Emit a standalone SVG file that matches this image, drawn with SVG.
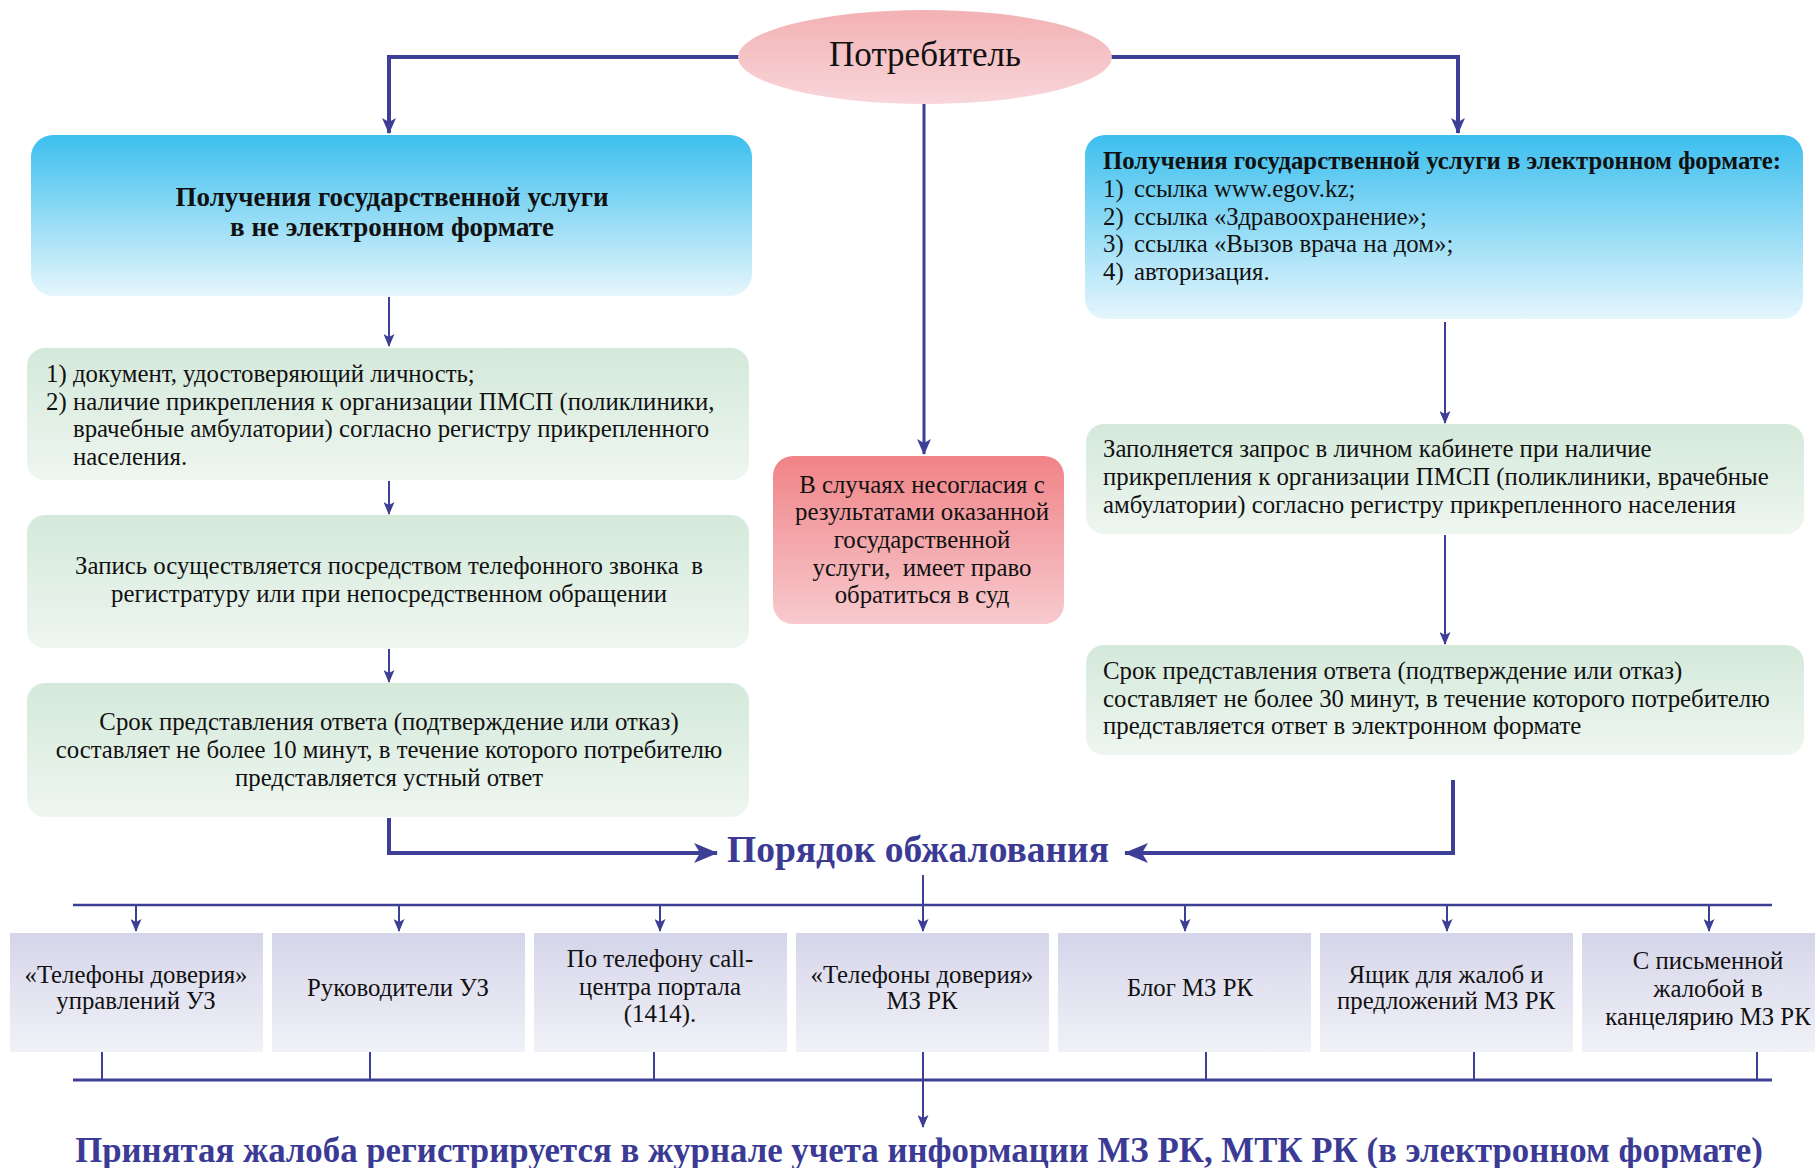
<svg xmlns="http://www.w3.org/2000/svg" width="1815" height="1168" viewBox="0 0 1815 1168">
  <style>
    text { font-family: "Liberation Serif", "Times New Roman", serif; fill: #111; }
    .t { font-size: 24.8px; }
    .tb { font-size: 24.8px; font-weight: bold; }
    .tt { font-size: 27px; font-weight: bold; }
    .c { text-anchor: middle; }
    .head { font-size: 37.5px; font-weight: bold; fill: #3b3b95; }
    .foot { font-size: 34.8px; font-weight: bold; fill: #3b3b95; }
    .ln { stroke: #3d3f96; fill: none; }
  </style>
  <defs>
    <linearGradient id="gPink" x1="0" y1="0" x2="0" y2="1">
      <stop offset="0" stop-color="#f3b1b4"/>
      <stop offset="1" stop-color="#f8d6da"/>
    </linearGradient>
    <linearGradient id="gBlue" x1="0" y1="0" x2="0" y2="1">
      <stop offset="0" stop-color="#3cbfee"/>
      <stop offset="1" stop-color="#e6f6fc"/>
    </linearGradient>
    <linearGradient id="gGreen" x1="0" y1="0" x2="0" y2="1">
      <stop offset="0" stop-color="#d4e9da"/>
      <stop offset="1" stop-color="#eef6f0"/>
    </linearGradient>
    <linearGradient id="gRed" x1="0" y1="0" x2="0" y2="1">
      <stop offset="0" stop-color="#f08387"/>
      <stop offset="1" stop-color="#f7cace"/>
    </linearGradient>
    <linearGradient id="gLav" x1="0" y1="0" x2="0" y2="1">
      <stop offset="0" stop-color="#d5d5ea"/>
      <stop offset="1" stop-color="#f1f1f8"/>
    </linearGradient>
    <marker id="arr" markerUnits="userSpaceOnUse" markerWidth="16" markerHeight="14" viewBox="0 0 16 14" refX="15" refY="7" orient="auto">
      <path d="M0,0 L16,7 L0,14 L4,7 z" fill="#3d3f96"/>
    </marker>
    <marker id="arrS" markerUnits="userSpaceOnUse" markerWidth="13" markerHeight="11" viewBox="0 0 13 11" refX="12" refY="5.5" orient="auto">
      <path d="M0,0 L13,5.5 L0,11 L3,5.5 z" fill="#3d3f96"/>
    </marker>
    <marker id="arrB" markerUnits="userSpaceOnUse" markerWidth="24" markerHeight="20" viewBox="0 0 24 20" refX="23" refY="10" orient="auto">
      <path d="M0,0 L24,10 L0,20 L6,10 z" fill="#3d3f96"/>
    </marker>
  </defs>

  <!-- connectors -->
  <g id="connectors">
    <path class="ln" d="M741,57 H389 V133" stroke-width="4" marker-end="url(#arr)"/>
    <path class="ln" d="M1088,57 H1458 V133" stroke-width="4" marker-end="url(#arr)"/>
    <path class="ln" d="M924,104 V454" stroke-width="3" marker-end="url(#arr)"/>
    <path class="ln" d="M389,297 V346" stroke-width="2" marker-end="url(#arrS)"/>
    <path class="ln" d="M389,481 V514" stroke-width="2" marker-end="url(#arrS)"/>
    <path class="ln" d="M389,649 V682" stroke-width="2" marker-end="url(#arrS)"/>
    <path class="ln" d="M1445,322 V423" stroke-width="2" marker-end="url(#arrS)"/>
    <path class="ln" d="M1445,535 V644" stroke-width="2" marker-end="url(#arrS)"/>
    <path class="ln" d="M389,818 V853 H717" stroke-width="4" marker-end="url(#arrB)"/>
    <path class="ln" d="M1453,780 V853 H1125" stroke-width="4" marker-end="url(#arrB)"/>
    <path class="ln" d="M923,875 V931" stroke-width="2" marker-end="url(#arrS)"/>
    <path class="ln" d="M73,905 H1772" stroke-width="2.5"/>
    <path class="ln" d="M136,905 V931" stroke-width="2" marker-end="url(#arrS)"/>
    <path class="ln" d="M399,905 V931" stroke-width="2" marker-end="url(#arrS)"/>
    <path class="ln" d="M660,905 V931" stroke-width="2" marker-end="url(#arrS)"/>
    <path class="ln" d="M1185,905 V931" stroke-width="2" marker-end="url(#arrS)"/>
    <path class="ln" d="M1447,905 V931" stroke-width="2" marker-end="url(#arrS)"/>
    <path class="ln" d="M1709,905 V931" stroke-width="2" marker-end="url(#arrS)"/>
    <path class="ln" d="M102,1052 V1080 M370,1052 V1080 M654,1052 V1080 M1206,1052 V1080 M1474,1052 V1080 M1757,1052 V1080" stroke-width="2"/>
    <path class="ln" d="M73,1080 H1772" stroke-width="3"/>
    <path class="ln" d="M923,1052 V1127" stroke-width="2" marker-end="url(#arrS)"/>
  </g>

  <!-- consumer -->
  <g id="consumer">
    <ellipse cx="925" cy="57" rx="187" ry="47" fill="url(#gPink)"/>
    <text x="925" y="66" class="c" font-size="35">Потребитель</text>
  </g>

  <!-- paper route -->
  <g id="offline">
    <rect x="31" y="135" width="721" height="161" rx="22" fill="url(#gBlue)"/>
    <text x="392" y="206" class="tt c">Получения государственной услуги</text>
    <text x="392" y="236" class="tt c">в не электронном формате</text>
  </g>
  <g id="offline-docs">
    <rect x="27" y="348" width="722" height="132" rx="18" fill="url(#gGreen)"/>
    <text class="t"><tspan x="46" y="382">1)</tspan><tspan x="73" y="382">документ, удостоверяющий личность;</tspan></text>
    <text class="t"><tspan x="46" y="410">2)</tspan><tspan x="73" y="410">наличие прикрепления к организации ПМСП (поликлиники,</tspan></text>
    <text class="t" x="73" y="437">врачебные амбулатории) согласно регистру прикрепленного</text>
    <text class="t" x="73" y="465">населения.</text>
  </g>
  <g id="offline-booking">
    <rect x="27" y="515" width="722" height="133" rx="18" fill="url(#gGreen)"/>
    <text x="389" y="574" class="t c">Запись осуществляется посредством телефонного звонка&#160; в</text>
    <text x="389" y="602" class="t c">регистратуру или при непосредственном обращении</text>
  </g>
  <g id="offline-answer">
    <rect x="27" y="683" width="722" height="134" rx="18" fill="url(#gGreen)"/>
    <text x="389" y="730" class="t c">Срок представления ответа (подтверждение или отказ)</text>
    <text x="389" y="758" class="t c">составляет не более 10 минут, в течение которого потребителю</text>
    <text x="389" y="786" class="t c">представляется устный ответ</text>
  </g>

  <!-- court -->
  <g id="court">
    <rect x="773" y="456" width="291" height="168" rx="20" fill="url(#gRed)"/>
    <text x="922" y="493" class="t c">В случаях несогласия с</text>
    <text x="922" y="520" class="t c">результатами оказанной</text>
    <text x="922" y="548" class="t c">государственной</text>
    <text x="922" y="576" class="t c">услуги,&#160; имеет право</text>
    <text x="922" y="603" class="t c">обратиться в суд</text>
  </g>

  <!-- electronic route -->
  <g id="online">
    <rect x="1085" y="135" width="718" height="184" rx="20" fill="url(#gBlue)"/>
    <text x="1103" y="169" class="tb">Получения государственной услуги в электронном формате:</text>
    <text class="t"><tspan x="1103" y="197">1)</tspan><tspan x="1134" y="197">ссылка www.egov.kz;</tspan></text>
    <text class="t"><tspan x="1103" y="225">2)</tspan><tspan x="1134" y="225">ссылка «Здравоохранение»;</tspan></text>
    <text class="t"><tspan x="1103" y="252">3)</tspan><tspan x="1134" y="252">ссылка «Вызов врача на дом»;</tspan></text>
    <text class="t"><tspan x="1103" y="280">4)</tspan><tspan x="1134" y="280">авторизация.</tspan></text>
  </g>
  <g id="online-request">
    <rect x="1086" y="424" width="718" height="110" rx="18" fill="url(#gGreen)"/>
    <text x="1103" y="457" class="t">Заполняется запрос в личном кабинете при наличие</text>
    <text x="1103" y="485" class="t">прикрепления к организации ПМСП (поликлиники, врачебные</text>
    <text x="1103" y="513" class="t">амбулатории) согласно регистру прикрепленного населения</text>
  </g>
  <g id="online-answer">
    <rect x="1086" y="645" width="718" height="110" rx="18" fill="url(#gGreen)"/>
    <text x="1103" y="679" class="t">Срок представления ответа (подтверждение или отказ)</text>
    <text x="1103" y="707" class="t">составляет не более 30 минут, в течение которого потребителю</text>
    <text x="1103" y="734" class="t">представляется ответ в электронном формате</text>
  </g>

  <!-- appeal -->
  <g id="appeal">
    <text x="918" y="862" class="head c">Порядок обжалования</text>
  </g>

  <g id="ch1">
    <rect x="10" y="933" width="253" height="119" fill="url(#gLav)"/>
    <text x="136" y="983" class="t c">«Телефоны доверия»</text>
    <text x="136" y="1009" class="t c">управлений УЗ</text>
  </g>
  <g id="ch2">
    <rect x="272" y="933" width="253" height="119" fill="url(#gLav)"/>
    <text x="398" y="996" class="t c">Руководители УЗ</text>
  </g>
  <g id="ch3">
    <rect x="534" y="933" width="253" height="119" fill="url(#gLav)"/>
    <text x="660" y="967" class="t c">По телефону call-</text>
    <text x="660" y="995" class="t c">центра портала</text>
    <text x="660" y="1022" class="t c">(1414).</text>
  </g>
  <g id="ch4">
    <rect x="796" y="933" width="253" height="119" fill="url(#gLav)"/>
    <text x="922" y="983" class="t c">«Телефоны доверия»</text>
    <text x="922" y="1009" class="t c">МЗ РК</text>
  </g>
  <g id="ch5">
    <rect x="1058" y="933" width="253" height="119" fill="url(#gLav)"/>
    <text x="1190" y="996" class="t c">Блог МЗ РК</text>
  </g>
  <g id="ch6">
    <rect x="1320" y="933" width="253" height="119" fill="url(#gLav)"/>
    <text x="1446" y="983" class="t c">Ящик для жалоб и</text>
    <text x="1446" y="1009" class="t c">предложений МЗ РК</text>
  </g>
  <g id="ch7">
    <rect x="1582" y="933" width="253" height="119" fill="url(#gLav)"/>
    <text x="1708" y="969" class="t c">С письменной</text>
    <text x="1708" y="997" class="t c">жалобой в</text>
    <text x="1708" y="1025" class="t c">канцелярию МЗ РК</text>
  </g>

  <g id="registry">
    <text x="919" y="1162" class="foot c">Принятая жалоба регистрируется в журнале учета информации МЗ РК, МТК РК (в электронном формате)</text>
  </g>
</svg>
